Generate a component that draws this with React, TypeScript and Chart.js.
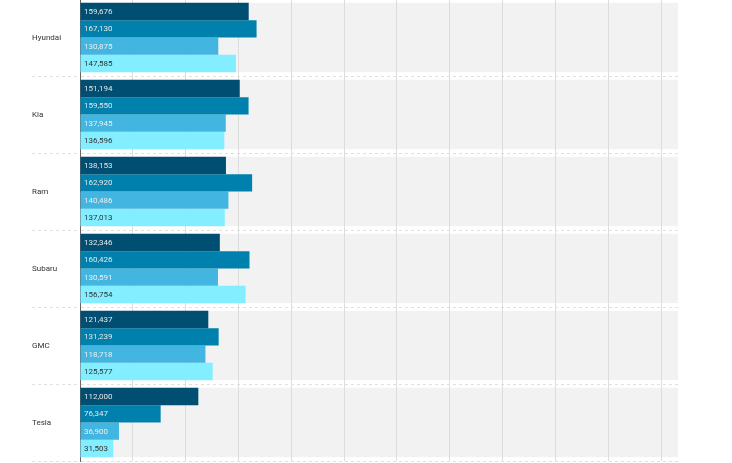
import { useEffect, useRef } from 'react';
import { Chart, registerables } from 'chart.js';

Chart.register(...registerables);

const categories = ['Hyundai', 'Kia', 'Ram', 'Subaru', 'GMC', 'Tesla'];
const seriesNames = ['Series 1', 'Series 2', 'Series 3', 'Series 4'];
const series1 = [159676, 151194, 138153, 132346, 121437, 112000];
const series2 = [167130, 159550, 162920, 160426, 131239, 76347];
const series3 = [130875, 137945, 140486, 130591, 118718, 36900];
const series4 = [147585, 136596, 137013, 156754, 125577, 31503];
const seriesColors = ['#004e72', '#0081ad', '#42b5e1', '#82eeff'];
const labelColors = ['#e6e6e6', '#e6e6e6', '#eeeeee', '#333333'];
const xMin = 0;
const xMax = 566000;
const xTickValues = [0, 50000, 100000, 150000, 200000, 250000, 300000, 350000, 400000, 450000, 500000, 550000];

const bandPlugin = {
  id: 'bands',
  beforeDraw(chart: any) {
    const { ctx, chartArea, scales } = chart;
    const y = scales.y;
    const n = categories.length;
    const pitch = (y.bottom - y.top) / n;
    const h = pitch * 0.9;
    ctx.save();
    ctx.fillStyle = '#f2f2f2';
    for (let i = 0; i < n; i++) {
      const yc = y.getPixelForValue(i);
      ctx.fillRect(chartArea.left, yc - h / 2, chartArea.right - chartArea.left, h);
    }
    ctx.restore();
  },
};

const labelPlugin = {
  id: 'barLabels',
  afterDatasetsDraw(chart: any) {
    const { ctx } = chart;
    ctx.save();
    ctx.font = '8px Roboto';
    ctx.textBaseline = 'middle';
    ctx.textAlign = 'left';
    chart.data.datasets.forEach((ds: any, di: number) => {
      const meta = chart.getDatasetMeta(di);
      ctx.fillStyle = labelColors[di];
      meta.data.forEach((el: any, i: number) => {
        const v = ds.data[i] as number;
        ctx.fillText(v.toLocaleString('en-US'), Math.min(el.base, el.x) + 3.5, el.y + 0.5);
      });
    });
    ctx.restore();
  },
};

export default function App() {
  const ref = useRef<HTMLCanvasElement>(null);
  useEffect(() => {
    if (!ref.current) return;
    const allSeries = [series1, series2, series3, series4];
    const chart = new Chart(ref.current, {
      type: 'bar',
      data: {
        labels: categories,
        datasets: allSeries.map((d, i) => ({
          label: seriesNames[i],
          data: d,
          backgroundColor: seriesColors[i],
          borderWidth: 0,
          categoryPercentage: 0.9,
          barPercentage: 1.0,
        })),
      },
      options: {
        indexAxis: 'y',
        animation: false,
        responsive: false,
        maintainAspectRatio: false,
        layout: { padding: { left: 32, right: 54, top: 0, bottom: 1 } },
        plugins: { legend: { display: false }, tooltip: { enabled: false } },
        scales: {
          x: {
            min: xMin,
            max: xMax,
            afterBuildTicks: (s: any) => {
              s.ticks = xTickValues.map((v) => ({ value: v }));
            },
            afterFit: (s: any) => {
              s.paddingLeft = 0;
              s.paddingRight = 0;
            },
            ticks: { display: false },
            grid: { color: '#dddddd', drawTicks: false, lineWidth: 1 },
            border: { display: false },
          },
          y: {
            position: 'left',
            afterFit: (s: any) => {
              s.width = 48;
              s.paddingTop = 0;
              s.paddingBottom = 0;
            },
            ticks: {
              crossAlign: 'far',
              padding: 0,
              color: '#333333',
              font: { family: 'Roboto', size: 8 },
            },
            grid: {
              offset: true,
              color: '#e0e0e0',
              tickColor: '#e0e0e0',
              tickLength: 48,
              tickBorderDash: [3, 3],
            },
            border: { display: true, color: '#666666', width: 1, dash: [3, 3] },
          },
        },
      },
      plugins: [bandPlugin, labelPlugin],
    } as any);
    return () => chart.destroy();
  }, []);
  return (
    <div style={{ position: 'absolute', left: 0, top: -1, width: 732, height: 463 }}>
      <canvas ref={ref} width={732} height={463} style={{ display: 'block', width: 732, height: 463 }} />
    </div>
  );
}
